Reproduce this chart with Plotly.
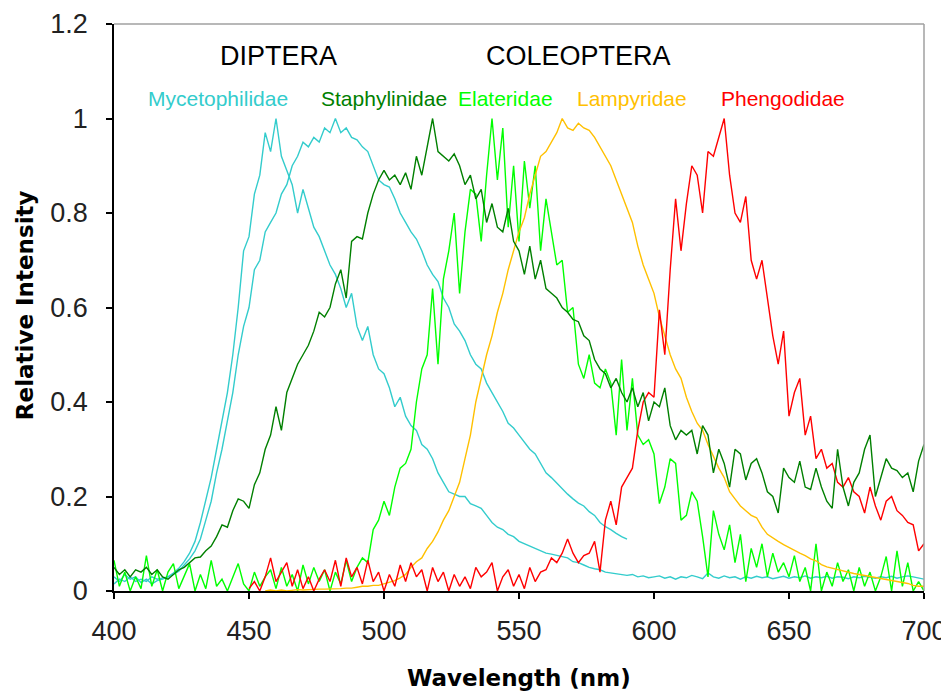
import plotly.graph_objects as go

# ---------------- data (relative intensity on a 2 nm grid) ----------------
myceto_a_start = 400
myceto_a = [
    0.03, 0.02, 0.035, 0.025, 0.03, 0.018, 0.025, 0.015, 0.022, 0.025,   # 400-418
    0.03, 0.038, 0.048, 0.062, 0.08, 0.105, 0.145, 0.19, 0.24, 0.3,      # 420-438
    0.36, 0.42, 0.5, 0.6, 0.72, 0.75, 0.84, 0.88, 0.97, 0.93,            # 440-458
    1.0, 0.92, 0.89, 0.86, 0.8, 0.85, 0.81, 0.77, 0.75, 0.72,            # 460-478
    0.69, 0.67, 0.64, 0.6, 0.63, 0.56, 0.53, 0.56, 0.5, 0.47,            # 480-498
    0.46, 0.43, 0.39, 0.41, 0.37, 0.35, 0.34, 0.31, 0.3, 0.28,           # 500-518
    0.25, 0.23, 0.21, 0.205, 0.2, 0.2, 0.185, 0.18, 0.175, 0.16,         # 520-538
    0.145, 0.135, 0.13, 0.12, 0.115, 0.105, 0.1, 0.094, 0.09, 0.085,     # 540-558
    0.08, 0.078, 0.075, 0.073, 0.07, 0.062, 0.06, 0.055, 0.05, 0.047,    # 560-578
    0.045, 0.04, 0.038, 0.037, 0.035, 0.033, 0.035, 0.03, 0.032, 0.028,  # 580-598
    0.03, 0.032, 0.027, 0.03, 0.025, 0.03, 0.028, 0.033, 0.03, 0.026,    # 600-618
    0.038, 0.03, 0.027, 0.032, 0.028, 0.03, 0.025, 0.03, 0.027, 0.031,   # 620-638
    0.028, 0.03, 0.026, 0.029, 0.031, 0.027, 0.03, 0.028, 0.032, 0.027,  # 640-658
    0.03, 0.028, 0.031, 0.027, 0.03, 0.029, 0.026, 0.03, 0.028, 0.031,   # 660-678
    0.029, 0.027, 0.03, 0.028, 0.031, 0.027, 0.03, 0.032, 0.03, 0.028,   # 680-698
    0.025,                                                               # 700
]

myceto_b_start = 400
myceto_b = [
    0.015, 0.025, 0.02, 0.03, 0.02, 0.025, 0.02, 0.03, 0.025, 0.028,     # 400-418
    0.03, 0.035, 0.042, 0.055, 0.068, 0.085, 0.11, 0.15, 0.19, 0.25,     # 420-438
    0.3, 0.36, 0.42, 0.5, 0.56, 0.6, 0.68, 0.7, 0.76, 0.78,              # 440-458
    0.8, 0.84, 0.86, 0.9, 0.92, 0.95, 0.94, 0.96, 0.95, 0.98,            # 460-478
    0.97, 1.0, 0.97, 0.98, 0.96, 0.955, 0.94, 0.93, 0.9, 0.87,           # 480-498
    0.86, 0.855, 0.83, 0.8, 0.78, 0.76, 0.745, 0.72, 0.69, 0.67,         # 500-518
    0.655, 0.62, 0.6, 0.565, 0.55, 0.53, 0.5, 0.48, 0.47, 0.44,          # 520-538
    0.42, 0.4, 0.38, 0.355, 0.345, 0.33, 0.315, 0.3, 0.29, 0.27,         # 540-558
    0.25, 0.24, 0.228, 0.215, 0.205, 0.195, 0.186, 0.18, 0.168, 0.16,    # 560-578
    0.145, 0.136, 0.13, 0.122, 0.115, 0.11,                              # 580-590
]

staphy_start = 400
staphy = [
    0.05, 0.035, 0.045, 0.03, 0.045, 0.04, 0.05, 0.035, 0.045, 0.03,     # 400-418
    0.025, 0.035, 0.045, 0.05, 0.06, 0.07, 0.072, 0.085, 0.095, 0.115,   # 420-438
    0.14, 0.135, 0.17, 0.195, 0.19, 0.175, 0.225, 0.25, 0.3, 0.33,       # 440-458
    0.39, 0.34, 0.42, 0.45, 0.48, 0.5, 0.52, 0.55, 0.59, 0.58,           # 460-478
    0.6, 0.65, 0.68, 0.62, 0.74, 0.75, 0.745, 0.8, 0.84, 0.87,           # 480-498
    0.89, 0.87, 0.88, 0.86, 0.885, 0.85, 0.92, 0.88, 0.94, 1.0,          # 500-518
    0.93, 0.92, 0.91, 0.925, 0.9, 0.86, 0.88, 0.83, 0.85, 0.78,          # 520-538
    0.82, 0.77, 0.76, 0.81, 0.74, 0.72, 0.67, 0.73, 0.66, 0.7,           # 540-558
    0.64, 0.63, 0.62, 0.6, 0.59, 0.575, 0.57, 0.54, 0.53, 0.49,          # 560-578
    0.47, 0.46, 0.43, 0.45, 0.42, 0.4, 0.43, 0.39, 0.42, 0.36,           # 580-598
    0.4, 0.39, 0.43, 0.35, 0.32, 0.34, 0.33, 0.34, 0.29, 0.35,           # 600-618
    0.33, 0.25, 0.3, 0.27, 0.22, 0.3, 0.29, 0.235, 0.27, 0.28,           # 620-638
    0.25, 0.21, 0.2, 0.165, 0.26, 0.24, 0.23, 0.275, 0.22, 0.215,        # 640-658
    0.26, 0.22, 0.19, 0.175, 0.3, 0.22, 0.18, 0.23, 0.25, 0.3,           # 660-678
    0.33, 0.2, 0.24, 0.28, 0.26, 0.255, 0.24, 0.25, 0.21, 0.275,         # 680-698
    0.31,                                                                # 700
]

elater_start = 400
elater = [
    0.065, 0.01, 0.04, 0.0, 0.03, 0.005, 0.075, 0.01, 0.045, 0.0,        # 400-418
    0.04, 0.058, 0.005, 0.03, 0.058, 0.0, 0.035, 0.005, 0.065, 0.01,     # 420-438
    0.025, 0.0, 0.03, 0.058, 0.015, 0.0, 0.04, 0.01, 0.03, 0.045,        # 440-458
    0.005, 0.05, 0.01, 0.035, 0.0, 0.055, 0.015, 0.05, 0.02, 0.045,      # 460-478
    0.0, 0.04, 0.015, 0.065, 0.02, 0.05, 0.07, 0.06, 0.13, 0.15,         # 480-498
    0.19, 0.16, 0.22, 0.26, 0.27, 0.3, 0.4, 0.47, 0.5, 0.64,             # 500-518
    0.48, 0.66, 0.72, 0.8, 0.63, 0.76, 0.85, 0.84, 0.74, 0.88,           # 520-538
    1.0, 0.87, 0.98, 0.77, 0.9, 0.74, 0.91, 0.81, 0.9, 0.72,             # 540-558
    0.83, 0.76, 0.69, 0.7, 0.59, 0.6, 0.48, 0.45, 0.5, 0.44,             # 560-578
    0.43, 0.47, 0.44, 0.33, 0.49, 0.34, 0.45, 0.33, 0.31, 0.32,          # 580-598
    0.29, 0.185, 0.22, 0.28, 0.27, 0.15, 0.16, 0.21, 0.19, 0.115,        # 600-618
    0.03, 0.17, 0.12, 0.087, 0.14, 0.06, 0.12, 0.02, 0.09, 0.05,         # 620-638
    0.1, 0.03, 0.08, 0.04, 0.06, 0.03, 0.075, 0.02, 0.05, 0.0,           # 640-658
    0.1, 0.0, 0.04, 0.01, 0.06, 0.02, 0.045, 0.0, 0.05, 0.01,            # 660-678
    0.04, 0.0, 0.03, 0.073, 0.0, 0.085, 0.01, 0.06, 0.0, 0.02,           # 680-698
    0.0,                                                                 # 700
]

lampy_start = 456
lampy = [
    0.0, 0.002, 0.0, 0.002, 0.0, 0.002, 0.003, 0.002, 0.003, 0.003,      # 456-474
    0.004, 0.004, 0.004, 0.005, 0.005, 0.006, 0.006, 0.008, 0.01, 0.01,  # 476-494
    0.012, 0.012, 0.015, 0.018, 0.022, 0.028, 0.035, 0.05, 0.062, 0.07, # 496-514
    0.09, 0.105, 0.125, 0.15, 0.17, 0.2, 0.23, 0.28, 0.33, 0.4,          # 516-534
    0.45, 0.5, 0.54, 0.59, 0.63, 0.68, 0.72, 0.76, 0.79, 0.84,           # 536-554
    0.88, 0.92, 0.93, 0.95, 0.97, 1.0, 0.98, 0.975, 0.99, 0.98,          # 556-574
    0.975, 0.96, 0.94, 0.92, 0.9, 0.87, 0.84, 0.81, 0.78, 0.73,          # 576-594
    0.69, 0.66, 0.63, 0.58, 0.54, 0.5, 0.47, 0.45, 0.41, 0.38,           # 596-614
    0.355, 0.34, 0.31, 0.285, 0.26, 0.24, 0.21, 0.195, 0.18, 0.17,       # 616-634
    0.16, 0.155, 0.135, 0.12, 0.112, 0.105, 0.098, 0.092, 0.085, 0.08,   # 636-654
    0.075, 0.068, 0.064, 0.056, 0.051, 0.048, 0.045, 0.042, 0.04, 0.037, # 656-674
    0.035, 0.033, 0.03, 0.028, 0.026, 0.024, 0.022, 0.02, 0.018, 0.016,  # 676-694
    0.012, 0.01, 0.01,                                                   # 696-700
]

pheng_start = 450
pheng = [
    0.005, 0.02, 0.0, 0.03, 0.07, 0.02, 0.04, 0.06, 0.01, 0.045,         # 450-468
    0.005, 0.03, 0.0, 0.025, 0.045, 0.02, 0.065, 0.01, 0.07, 0.03,       # 470-488
    0.05, 0.015, 0.065, 0.02, 0.04, 0.0, 0.035, 0.01, 0.055, 0.02,       # 490-508
    0.06, 0.03, 0.045, 0.0, 0.05, 0.02, 0.04, 0.0, 0.035, 0.01,          # 510-528
    0.03, 0.005, 0.05, 0.03, 0.04, 0.06, 0.0, 0.03, 0.045, 0.01,         # 530-548
    0.035, 0.005, 0.05, 0.02, 0.04, 0.045, 0.07, 0.06, 0.08, 0.11,       # 550-568
    0.08, 0.06, 0.075, 0.08, 0.105, 0.04, 0.15, 0.19, 0.14, 0.22,        # 570-588
    0.24, 0.26, 0.34, 0.4, 0.42, 0.41, 0.595, 0.5, 0.68, 0.83,           # 590-608
    0.72, 0.82, 0.9, 0.88, 0.8, 0.93, 0.92, 0.96, 1.0, 0.88,             # 610-628
    0.8, 0.78, 0.835, 0.7, 0.66, 0.7, 0.62, 0.54, 0.48, 0.55,            # 630-648
    0.37, 0.42, 0.45, 0.33, 0.37, 0.28, 0.3, 0.26, 0.27, 0.23,           # 650-668
    0.22, 0.24, 0.21, 0.2, 0.165, 0.22, 0.18, 0.15, 0.19, 0.2,           # 670-688
    0.17, 0.16, 0.145, 0.14, 0.085, 0.1,                                 # 690-700
]

x_ticks = [400, 450, 500, 550, 600, 650, 700]
y_ticks = [0, 0.2, 0.4, 0.6, 0.8, 1.0, 1.2]

group_labels = ["DIPTERA", "COLEOPTERA"]
family_labels = ["Mycetophilidae", "Staphylinidae", "Elateridae", "Lampyridae", "Phengodidae"]

# ---------------- styling ----------------
CYAN = "#33CCCC"
DKGREEN = "#008000"
GREEN = "#00FF00"
ORANGE = "#FFC000"
RED = "#FF0000"


def grid(start, vals):
    return [start + 2 * i for i in range(len(vals))]


series = [
    (myceto_a_start, myceto_a, CYAN),
    (myceto_b_start, myceto_b, CYAN),
    (elater_start, elater, GREEN),
    (lampy_start, lampy, ORANGE),
    (pheng_start, pheng, RED),
    (staphy_start, staphy, DKGREEN),
]

fig = go.Figure()
for start, vals, col in series:
    fig.add_trace(go.Scatter(
        x=grid(start, vals), y=vals, mode="lines",
        line=dict(color=col, width=1.4), hoverinfo="skip",
    ))

TICKFONT = dict(family="Liberation Sans, Arial, sans-serif", size=27, color="#222222")

# the page body has an 8 px margin, so the figure is offset by 8 px and sized to end at the window edge
fig.update_layout(
    width=941, height=685,
    margin=dict(l=106, r=25, t=16, b=102),
    paper_bgcolor="white", plot_bgcolor="white",
    showlegend=False,
    xaxis=dict(
        range=[400, 700], tickvals=x_ticks, ticks="outside", ticklen=6,
        tickwidth=1.5, tickcolor="black", showline=True, linecolor="black",
        linewidth=1.5, showgrid=False, zeroline=False, tickfont=TICKFONT,
        ticklabelstandoff=9, automargin=False, ticklabeloverflow="allow",
    ),
    yaxis=dict(
        range=[0, 1.2], tickvals=y_ticks, ticks="outside", ticklen=6,
        tickwidth=1.5, tickcolor="black", showline=True, linecolor="black",
        linewidth=1.5, showgrid=False, zeroline=False, tickfont=TICKFONT,
        ticklabelstandoff=13, automargin=False,
    ),
)

# grey frame on top and right
fig.add_shape(type="line", xref="paper", yref="paper", x0=0, x1=1, y0=1, y1=1,
              line=dict(color="#A0A0A0", width=1.5))
fig.add_shape(type="line", xref="paper", yref="paper", x0=1, x1=1, y0=0, y1=1,
              line=dict(color="#A0A0A0", width=1.5))

# axis titles
TITLEFONT = dict(family="DejaVu Sans, Verdana, sans-serif", size=23, color="black", weight="bold")
fig.add_annotation(text="Wavelength (nm)", xref="paper", yref="paper", x=0.5, y=-0.153,
                   showarrow=False, font=TITLEFONT, xanchor="center", yanchor="middle")
fig.add_annotation(text="Relative Intensity", xref="paper", yref="paper", x=-0.11, y=0.504,
                   showarrow=False, font=TITLEFONT, textangle=-90, xanchor="center", yanchor="middle")

# group labels
GROUPFONT = dict(family="Liberation Sans, Arial, sans-serif", size=27, color="black")
for lab, gx in zip(group_labels, [0.203, 0.574]):
    fig.add_annotation(text=lab, xref="paper", yref="paper", x=gx, y=0.944,
                       showarrow=False, font=GROUPFONT, xanchor="center", yanchor="middle")

# family labels
fam_cols = [CYAN, DKGREEN, GREEN, ORANGE, RED]
fam_x = [0.128, 0.333, 0.483, 0.640, 0.8265]
for lab, fx, col in zip(family_labels, fam_x, fam_cols):
    fig.add_annotation(text=lab, xref="paper", yref="paper", x=fx, y=0.868,
                       showarrow=False, xanchor="center", yanchor="middle",
                       font=dict(family="Liberation Sans, Arial, sans-serif", size=21, color=col))

fig.write_html("out.html")
